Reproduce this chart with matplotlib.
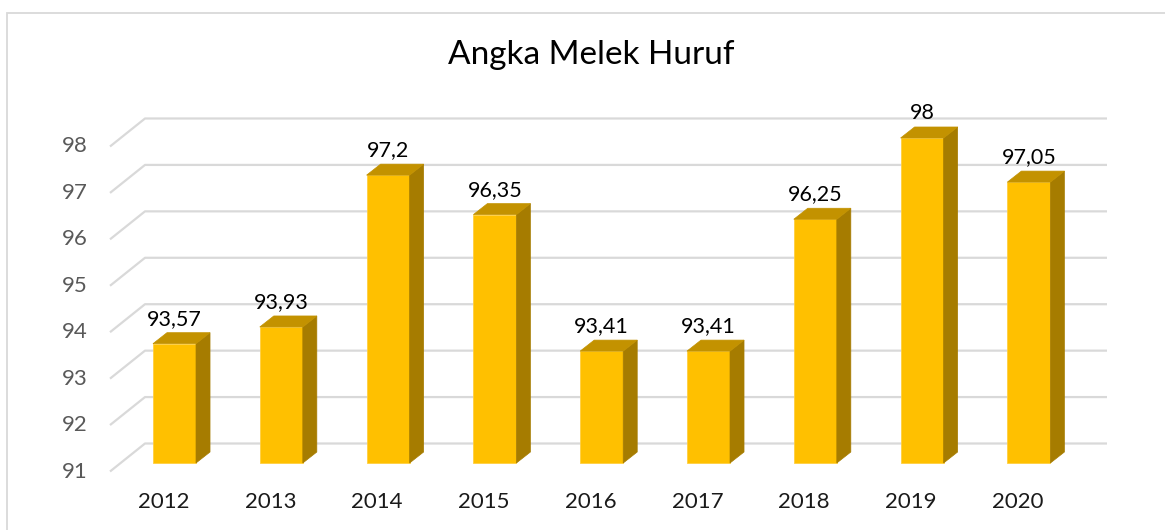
import matplotlib.pyplot as plt
from matplotlib.patches import Polygon, Rectangle

# data
tahun = ['2012', '2013', '2014', '2015', '2016', '2017', '2018', '2019', '2020']
nilai = [93.57, 93.93, 97.2, 96.35, 93.41, 93.41, 96.25, 98, 97.05]
label = ['93,57', '93,93', '97,2', '96,35', '93,41', '93,41', '96,25', '98', '97,05']
yticks = [91, 92, 93, 94, 95, 96, 97, 98]

plt.rcParams['font.family'] = ['Lato', 'DejaVu Sans']

W, H = 1165, 530
# pixel layout of the front plane
PX_X = 106.8          # px per category
X0 = 174.5            # px of first bar centre
PX_Y = 46.43          # px per unit
Y0 = 463              # px (from top) of value 91
BASE = 91

def dx(p):
    return p / PX_X

def dy(p):
    return p / PX_Y

fig = plt.figure(figsize=(W / 100, H / 100), dpi=100)
ax = fig.add_axes([0, 0, 1, 1])
ax.set_xlim(-X0 / PX_X, (W - X0) / PX_X)
ax.set_ylim(BASE - (H - Y0) / PX_Y, BASE + Y0 / PX_Y)
ax.axis('off')

# chart border
x_b = -X0 / PX_X + dx(7)
y_b = BASE + Y0 / PX_Y - dy(12.5)
ax.add_patch(Rectangle((x_b, BASE - 5), 20, y_b - BASE + 5, fill=False,
                       ec='#d9d9d9', lw=1.3, zorder=0))

# perspective gridlines
x_front = dx(110 - X0)
x_back = dx(145 - X0)
x_right = dx(1107 - X0)
for v in yticks:
    yf = v - dy(8.5)
    yb = v + dy(19.5)
    ax.plot([x_front, x_back, x_right], [yf, yb, yb], color='#d9d9d9',
            lw=1.6, zorder=1, solid_capstyle='butt')
    ax.text(dx(88 - X0), yf, str(v), ha='right', va='center',
            fontsize=16, color='#595959')

# 3d bars
w = 0.403
ddx = dx(14)
ddy = dy(11)
idx = list(range(len(tahun)))
ax.bar(idx, [v - BASE for v in nilai], bottom=BASE, width=w,
       color='#ffc000', edgecolor='#ffcf40', lw=0.6, zorder=3)
for i, v in zip(idx, nilai):
    r = i + w / 2
    l = i - w / 2
    ax.add_patch(Polygon([(r, BASE), (r + ddx, BASE + ddy), (r + ddx, v + ddy), (r, v)],
                         closed=True, fc='#a67c00', ec='#a67c00', lw=0.5, zorder=3))
    ax.add_patch(Polygon([(l, v), (r, v), (r + ddx, v + ddy), (l + ddx, v + ddy)],
                         closed=True, fc='#c39200', ec='#c39200', lw=0.5, zorder=3))

for i, v, t in zip(idx, nilai, label):
    ax.text(i, v + dy(25), t, ha='center', va='center', fontsize=15.5, color='black', zorder=4)

for i, t in zip(idx, tahun):
    ax.text(i - dx(11), BASE - dy(39), t, ha='center', va='center',
            fontsize=16, color='#1a1a1a')

ax.text(dx(591 - X0), BASE + dy(Y0 - 55), 'Angka Melek Huruf', ha='center', va='center',
        fontsize=24, color='black')

fig.savefig('out.png', dpi=100)
